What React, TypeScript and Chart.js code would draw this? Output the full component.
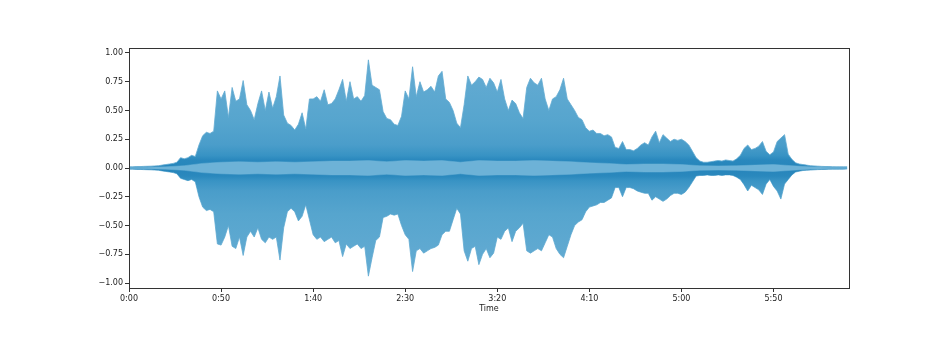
import React, { useEffect, useRef } from 'react';
import { Chart, registerables } from 'chart.js';

Chart.register(...registerables);

// Envelope sampled every 2 seconds (t = 0, 2, 4, ... 390 s)
const envStepSec = 2;
const upperEnv = [
  0.01, 0.01, 0.012, 0.012, 0.014, 0.015, 0.016, 0.018, 0.02, 0.025,
  0.03, 0.035, 0.04, 0.05, 0.09, 0.08, 0.09, 0.11, 0.1, 0.2,
  0.28, 0.31, 0.3, 0.32, 0.67, 0.6, 0.67, 0.44, 0.7, 0.58,
  0.6, 0.76, 0.55, 0.5, 0.42, 0.56, 0.67, 0.5, 0.66, 0.52,
  0.62, 0.8, 0.46, 0.39, 0.37, 0.33, 0.38, 0.48, 0.34, 0.6,
  0.6, 0.62, 0.58, 0.68, 0.55, 0.56, 0.6, 0.68, 0.77, 0.58,
  0.75, 0.6, 0.62, 0.58, 0.63, 0.94, 0.72, 0.7, 0.68, 0.49,
  0.43, 0.42, 0.38, 0.37, 0.45, 0.67, 0.6, 0.88, 0.62, 0.75,
  0.66, 0.68, 0.71, 0.66, 0.8, 0.84, 0.6, 0.57, 0.5, 0.39,
  0.35, 0.55, 0.8, 0.72, 0.75, 0.79, 0.77, 0.7, 0.78, 0.74,
  0.66, 0.77, 0.6, 0.5, 0.59, 0.56, 0.48, 0.43, 0.7, 0.78,
  0.74, 0.72, 0.78, 0.6, 0.5, 0.6, 0.62, 0.68, 0.78, 0.6,
  0.55, 0.5, 0.44, 0.42, 0.35, 0.32, 0.33, 0.3, 0.3, 0.28,
  0.29, 0.27, 0.18, 0.17, 0.23, 0.16, 0.16, 0.15, 0.17, 0.2,
  0.22, 0.2, 0.27, 0.32, 0.22, 0.29, 0.26, 0.23, 0.25, 0.24,
  0.25, 0.23, 0.2, 0.145, 0.09, 0.06, 0.05, 0.05, 0.055, 0.06,
  0.065, 0.06, 0.07, 0.065, 0.06, 0.08, 0.11, 0.17, 0.2, 0.16,
  0.17, 0.19, 0.23, 0.145, 0.115, 0.14, 0.23, 0.26, 0.29, 0.12,
  0.075, 0.045, 0.035, 0.03, 0.025, 0.02, 0.018, 0.016, 0.014, 0.013,
  0.012, 0.011, 0.01, 0.01, 0.01, 0.01,
];
const lowerEnv = [
  -0.01, -0.01, -0.012, -0.012, -0.014, -0.015, -0.016, -0.018, -0.02, -0.025,
  -0.03, -0.035, -0.04, -0.05, -0.09, -0.1, -0.11, -0.1, -0.12, -0.25,
  -0.34, -0.37, -0.36, -0.38, -0.66, -0.67, -0.6, -0.5, -0.68, -0.7,
  -0.6, -0.76, -0.6, -0.55, -0.6, -0.52, -0.62, -0.65, -0.6, -0.62,
  -0.6, -0.8, -0.52, -0.38, -0.35, -0.38, -0.46, -0.42, -0.32, -0.45,
  -0.58, -0.62, -0.6, -0.64, -0.62, -0.6, -0.65, -0.63, -0.77, -0.66,
  -0.7, -0.68, -0.66, -0.7, -0.68, -0.94, -0.78, -0.63, -0.6, -0.43,
  -0.42, -0.4, -0.41, -0.4, -0.5, -0.58, -0.62, -0.9, -0.72, -0.7,
  -0.74, -0.72, -0.7, -0.69, -0.67, -0.58, -0.55, -0.55, -0.45, -0.35,
  -0.4, -0.72, -0.81, -0.7, -0.68, -0.84, -0.75, -0.7, -0.78, -0.74,
  -0.6, -0.62, -0.55, -0.52, -0.64, -0.55, -0.52, -0.48, -0.72, -0.74,
  -0.72, -0.7, -0.72, -0.65, -0.58, -0.6, -0.7, -0.75, -0.78, -0.68,
  -0.58, -0.5, -0.47, -0.45, -0.38, -0.34, -0.33, -0.32, -0.3, -0.3,
  -0.28, -0.26, -0.17, -0.17, -0.25, -0.17, -0.17, -0.18, -0.2, -0.21,
  -0.22, -0.22, -0.28, -0.25, -0.27, -0.29, -0.27, -0.24, -0.22, -0.22,
  -0.23, -0.21, -0.17, -0.12, -0.07, -0.065, -0.065, -0.06, -0.065, -0.065,
  -0.06, -0.065, -0.06, -0.06, -0.065, -0.08, -0.1, -0.145, -0.2, -0.15,
  -0.17, -0.19, -0.23, -0.14, -0.1, -0.16, -0.2, -0.27, -0.14, -0.1,
  -0.06, -0.035, -0.028, -0.022, -0.02, -0.018, -0.016, -0.014, -0.013, -0.012,
  -0.011, -0.01, -0.01, -0.01, -0.01, -0.008,
];

// Inner (RMS-like) light band half-width, every 10 seconds
const bandStepSec = 10;
const innerBand = [
  0.004, 0.006, 0.01, 0.02, 0.04, 0.05, 0.055, 0.05, 0.055, 0.05,
  0.055, 0.06, 0.06, 0.065, 0.055, 0.065, 0.06, 0.065, 0.05, 0.065,
  0.06, 0.06, 0.065, 0.06, 0.055, 0.045, 0.04, 0.03, 0.035, 0.035,
  0.03, 0.02, 0.018, 0.02, 0.025, 0.03, 0.02, 0.01, 0.006, 0.004,
];

const xTicks = [0, 50, 100, 150, 200, 250, 300, 350];
const yTicks = [-1, -0.75, -0.5, -0.25, 0, 0.25, 0.5, 0.75, 1];
const durationSec = 391;
const yLimit = 1.043;

const FONT = { family: 'DejaVu Sans', size: 8 };
const TEXT = '#222';

const fmtTime = (s: number) => {
  const m = Math.floor(s / 60);
  const sec = Math.round(s - m * 60);
  return `${m}:${sec < 10 ? '0' : ''}${sec}`;
};

const shadeStops: [number, string][] = [
  [0, '#2685bb'],
  [0.07, '#2a88bd'],
  [0.11, '#3893c4'],
  [0.2, '#4a9dca'],
  [0.4, '#56a5ce'],
  [0.7, '#5fa9d1'],
  [1.05, '#65add4'],
];

const frame = {
  id: 'frame',
  afterDraw(chart: any) {
    const { ctx, chartArea: a } = chart;
    ctx.save();
    ctx.strokeStyle = '#333';
    ctx.lineWidth = 1;
    ctx.strokeRect(Math.round(a.left) + 0.5, Math.round(a.top) + 0.5, Math.round(a.right - a.left), Math.round(a.bottom - a.top));
    ctx.restore();
  },
};

export default function App() {
  const ref = useRef<HTMLCanvasElement | null>(null);
  useEffect(() => {
    if (!ref.current) return;
    const up = upperEnv.map((v, i) => ({ x: i * envStepSec, y: v }));
    const lo = lowerEnv.map((v, i) => ({ x: i * envStepSec, y: v }));
    const bUp = innerBand.map((v, i) => ({ x: i * bandStepSec, y: v }));
    const bLo = innerBand.map((v, i) => ({ x: i * bandStepSec, y: -v }));

    const envFill = (context: any) => {
      const chart = context.chart;
      const { ctx, chartArea, scales } = chart;
      if (!chartArea || !scales.y) return '#5aa7d0';
      const ys = scales.y;
      const top = ys.getPixelForValue(yLimit);
      const bottom = ys.getPixelForValue(-yLimit);
      const g = ctx.createLinearGradient(0, top, 0, bottom);
      const pos = (v: number) => Math.min(1, Math.max(0, (ys.getPixelForValue(v) - top) / (bottom - top)));
      for (const [v, c] of shadeStops) {
        g.addColorStop(pos(v), c);
        g.addColorStop(pos(-v), c);
      }
      return g;
    };

    const chart = new Chart(ref.current, {
      type: 'line',
      data: {
        datasets: [
          {
            data: bUp,
            fill: '+1',
            backgroundColor: '#6db2d7',
            borderColor: '#6db2d7',
            borderWidth: 0.5,
            pointRadius: 0,
            tension: 0,
          },
          {
            data: bLo,
            fill: false,
            borderColor: '#6db2d7',
            borderWidth: 0.5,
            pointRadius: 0,
            tension: 0,
          },
          {
            data: up,
            fill: '+1',
            backgroundColor: envFill,
            borderColor: '#62abd2',
            borderWidth: 0.8,
            pointRadius: 0,
            tension: 0,
          },
          {
            data: lo,
            fill: false,
            borderColor: '#62abd2',
            borderWidth: 0.8,
            pointRadius: 0,
            tension: 0,
          },
        ],
      },
      options: {
        animation: false,
        responsive: false,
        devicePixelRatio: 1,
        layout: { padding: { left: 69, right: 80, top: 48, bottom: 39 } },
        plugins: { legend: { display: false }, tooltip: { enabled: false } },
        scales: {
          x: {
            type: 'linear',
            min: 0,
            max: durationSec,
            afterBuildTicks: (axis: any) => {
              axis.ticks = xTicks.map((v) => ({ value: v }));
            },
            afterFit: (axis: any) => {
              axis.height = 26;
            },
            ticks: {
              font: FONT,
              color: TEXT,
              padding: 2,
              maxRotation: 0,
              autoSkip: false,
              callback: (v: any) => fmtTime(Number(v)),
            },
            grid: { display: true, drawOnChartArea: false, drawTicks: true, tickLength: 4, color: '#333', lineWidth: 1 },
            border: { display: false },
            title: { display: true, text: 'Time', font: FONT, color: TEXT, padding: { top: 1, bottom: 0 } },
          },
          y: {
            type: 'linear',
            min: -yLimit,
            max: yLimit,
            afterBuildTicks: (axis: any) => {
              axis.ticks = yTicks.map((v) => ({ value: v }));
            },
            afterFit: (axis: any) => {
              axis.width = 60;
            },
            ticks: {
              font: FONT,
              color: TEXT,
              padding: 2,
              autoSkip: false,
              callback: (v: any) => Number(v).toFixed(2).replace('-', '\u2212'),
            },
            grid: { display: true, drawOnChartArea: false, drawTicks: true, tickLength: 4, color: '#333', lineWidth: 1 },
            border: { display: false },
          },
        },
      },
      plugins: [frame],
    } as any);
    return () => chart.destroy();
  }, []);

  return (
    <div style={{ position: 'fixed', left: 0, top: 0, width: 929, height: 353, background: '#fff' }}>
      <canvas ref={ref} width={929} height={353} style={{ width: 929, height: 353, display: 'block' }} />
    </div>
  );
}
